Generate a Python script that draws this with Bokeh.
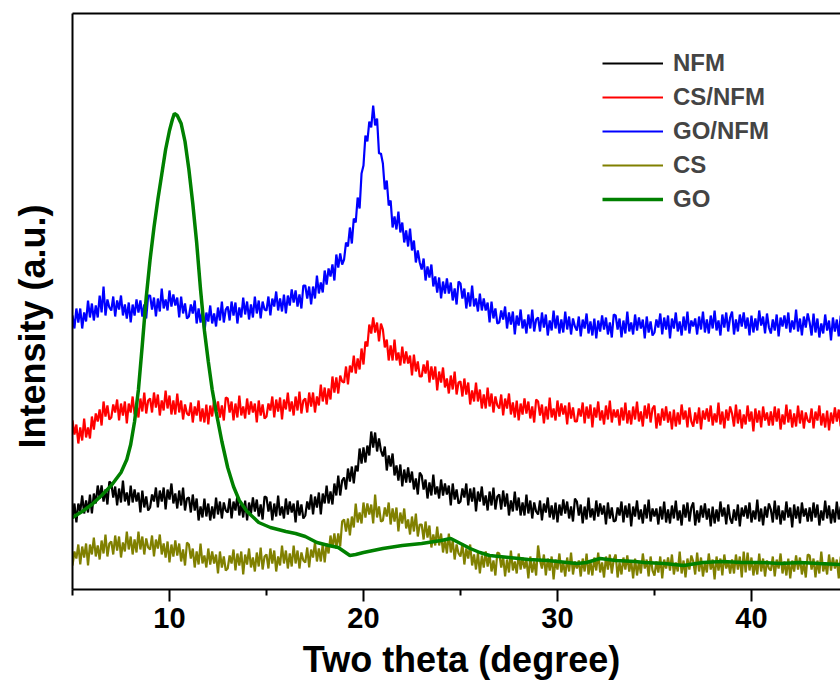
from bokeh.plotting import figure
from bokeh.models import Range1d, LinearAxis, FixedTicker
from bokeh.embed import file_html
from bokeh.resources import INLINE

nfm = [
    71, 86, 67, 86, 78, 94, 76, 89, 77, 95, 76, 96, 86, 104, 91, 104, 88, 100, 85, 108,
    106, 92, 103, 84, 101, 87, 109, 88, 97, 84, 104, 87, 100, 88, 97, 77, 99, 82, 93, 79,
    82, 95, 88, 102, 82, 99, 88, 102, 80, 100, 90, 106, 86, 96, 81, 99, 84, 102, 79, 91,
    92, 77, 95, 79, 91, 69, 83, 72, 91, 73, 86, 69, 83, 71, 92, 75, 88, 71, 87, 79,
    77, 91, 71, 88, 79, 94, 74, 86, 72, 89, 69, 87, 76, 92, 78, 90, 73, 85, 70, 93,
    92, 78, 88, 69, 86, 73, 94, 74, 83, 71, 91, 75, 88, 77, 86, 67, 89, 74, 85, 71,
    74, 88, 80, 95, 75, 93, 82, 97, 75, 96, 86, 104, 86, 98, 85, 106, 94, 114, 94, 109,
    112, 100, 121, 108, 123, 106, 124, 118, 141, 126, 142, 127, 144, 134, 158, 142, 157, 138, 151, 139,
    133, 143, 119, 134, 123, 136, 114, 124, 109, 125, 103, 120, 107, 122, 107, 118, 100, 111, 95, 117,
    114, 100, 110, 91, 107, 94, 115, 95, 103, 91, 110, 94, 106, 95, 104, 84, 106, 90, 100, 86,
    88, 101, 92, 106, 84, 101, 88, 102, 78, 98, 88, 103, 84, 94, 79, 98, 84, 102, 80, 93,
    95, 80, 99, 83, 96, 74, 89, 78, 98, 79, 92, 74, 87, 74, 95, 76, 89, 71, 87, 78,
    75, 89, 69, 86, 77, 92, 72, 84, 70, 87, 67, 85, 74, 90, 76, 88, 71, 83, 68, 91,
    88, 74, 85, 66, 83, 70, 92, 72, 81, 69, 89, 73, 86, 75, 84, 65, 87, 71, 82, 68,
    69, 82, 74, 88, 67, 84, 72, 86, 63, 83, 73, 89, 70, 80, 66, 85, 71, 90, 68, 81,
    73, 81, 65, 83, 70, 88, 67, 80, 66, 84, 71, 89, 69, 79, 64, 85, 72, 87, 68, 82,
    87, 64, 79, 67, 84, 72, 86, 70, 81, 63, 83, 66, 80, 68, 88, 73, 82, 65, 85, 71,
    66, 80, 69, 85, 63, 82, 73, 84, 71, 87, 67, 79, 70, 90, 68, 81, 64, 83, 72, 86,
    80, 67, 89, 70, 84, 65, 79, 69, 88, 72, 82, 62, 85, 71, 83, 66, 87, 73, 81, 68,
    82, 68, 87, 72, 85, 64, 79, 69, 89, 71, 84, 66, 80, 67, 88, 70, 83,
]

cs_nfm = [
    169, 155, 165, 146, 162, 149, 171, 152, 162, 151, 173, 160, 176, 168, 180, 164, 188, 173, 184, 170,
    172, 185, 177, 190, 169, 186, 174, 188, 166, 186, 177, 193, 175, 185, 172, 191, 178, 197, 176, 189,
    191, 177, 197, 182, 195, 174, 189, 179, 199, 181, 194, 175, 189, 175, 196, 177, 189, 170, 185, 176,
    174, 187, 167, 183, 174, 189, 168, 181, 167, 185, 165, 184, 173, 190, 176, 188, 172, 184, 169, 192,
    191, 177, 188, 169, 186, 172, 194, 174, 183, 171, 191, 175, 188, 177, 186, 167, 189, 174, 185, 171,
    173, 186, 179, 193, 172, 190, 178, 192, 170, 190, 180, 197, 178, 188, 174, 193, 179, 198, 176, 189,
    191, 177, 197, 183, 197, 177, 193, 184, 205, 188, 202, 185, 201, 190, 213, 197, 212, 196, 214, 208,
    207, 223, 205, 224, 217, 234, 216, 231, 220, 241, 225, 248, 243, 265, 256, 272, 257, 267, 248, 266,
    260, 242, 250, 229, 244, 229, 250, 229, 237, 224, 243, 226, 238, 226, 234, 214, 235, 218, 228, 213,
    213, 225, 216, 229, 207, 223, 210, 223, 199, 218, 207, 222, 202, 211, 196, 214, 200, 218, 195, 207,
    208, 193, 211, 195, 207, 185, 199, 188, 207, 188, 200, 181, 195, 181, 202, 183, 196, 177, 193, 184,
    181, 195, 174, 191, 181, 196, 175, 187, 172, 189, 169, 186, 175, 191, 176, 188, 171, 183, 167, 190,
    188, 174, 185, 166, 183, 170, 192, 172, 181, 169, 189, 173, 186, 175, 184, 165, 187, 171, 182, 168,
    168, 181, 173, 187, 166, 183, 171, 185, 162, 182, 172, 188, 169, 179, 165, 184, 170, 189, 167, 180,
    172, 180, 164, 182, 169, 187, 166, 179, 165, 183, 170, 188, 168, 178, 163, 184, 171, 186, 167, 181,
    184, 161, 176, 164, 181, 169, 183, 167, 178, 160, 180, 163, 177, 165, 185, 170, 179, 162, 182, 168,
    163, 177, 166, 182, 160, 179, 170, 181, 168, 184, 164, 176, 167, 187, 165, 178, 161, 180, 169, 183,
    176, 163, 185, 166, 180, 161, 175, 165, 184, 168, 178, 158, 181, 167, 179, 162, 183, 169, 177, 164,
    178, 164, 183, 168, 181, 160, 175, 165, 185, 167, 180, 162, 176, 163, 184, 166, 179, 161, 177, 169,
    167, 181, 161, 178, 169, 184, 164, 176, 162, 179, 159, 177, 166, 182, 168, 180, 163,
]

go_nfm = [
    274, 261, 281, 267, 281, 261, 277, 268, 289, 272, 286, 269, 284, 272, 294, 277, 303, 274, 290, 282,
    279, 293, 273, 289, 280, 294, 274, 285, 271, 287, 267, 285, 274, 290, 277, 289, 273, 285, 271, 294,
    294, 280, 292, 273, 291, 278, 301, 281, 290, 279, 299, 283, 295, 284, 292, 272, 293, 276, 286, 271,
    273, 285, 276, 289, 266, 281, 267, 279, 256, 277, 268, 284, 266, 276, 263, 282, 269, 288, 267, 280,
    283, 269, 288, 274, 287, 266, 282, 272, 292, 275, 288, 270, 285, 272, 293, 276, 289, 271, 288, 280,
    279, 293, 274, 291, 283, 298, 279, 291, 278, 295, 276, 294, 284, 300, 287, 299, 283, 295, 281, 304,
    304, 291, 303, 285, 303, 291, 314, 296, 307, 297, 319, 305, 321, 313, 325, 309, 335, 322, 336, 325,
    330, 347, 343, 362, 346, 371, 367, 392, 381, 416, 424, 454, 448, 468, 462, 484, 464, 471, 436, 436,
    426, 400, 409, 384, 389, 362, 373, 360, 378, 357, 367, 347, 359, 343, 361, 339, 349, 327, 339, 327,
    320, 331, 309, 323, 312, 325, 303, 313, 297, 312, 291, 308, 296, 311, 296, 307, 289, 301, 285, 308,
    306, 291, 301, 281, 297, 283, 304, 283, 291, 278, 296, 279, 291, 279, 287, 267, 288, 271, 281, 266,
    267, 279, 270, 283, 261, 277, 265, 278, 255, 274, 264, 280, 261, 270, 256, 275, 261, 280, 258, 270,
    272, 258, 277, 262, 275, 254, 269, 259, 279, 261, 274, 256, 270, 257, 278, 260, 273, 255, 271, 263,
    259, 273, 253, 270, 261, 276, 256, 268, 254, 271, 251, 269, 258, 274, 260, 272, 255, 267, 252, 275,
    274, 260, 271, 252, 269, 256, 278, 258, 267, 255, 275, 259, 272, 261, 270, 251, 273, 257, 268, 254,
    257, 270, 262, 276, 255, 272, 260, 274, 251, 271, 261, 277, 258, 268, 254, 273, 259, 278, 256, 269,
    263, 271, 255, 273, 260, 278, 257, 270, 256, 274, 261, 279, 259, 269, 254, 275, 262, 277, 258, 272,
    278, 255, 270, 258, 275, 263, 277, 261, 272, 254, 274, 257, 271, 259, 279, 264, 273, 256, 276, 262,
    256, 270, 259, 275, 253, 272, 263, 274, 261, 277, 257, 269, 260, 280, 258, 271, 254, 273, 262, 276,
    267, 254, 276, 257, 271, 252, 266, 256, 275, 259, 269, 249, 272, 258, 270, 253, 274,
]

cs = [
    24, 38, 31, 45, 25, 43, 32, 46, 24, 45, 35, 52, 33, 44, 30, 49, 36, 55, 33, 46,
    48, 35, 54, 39, 53, 32, 47, 38, 58, 40, 53, 35, 50, 37, 58, 40, 53, 35, 51, 42,
    40, 54, 33, 50, 41, 55, 35, 46, 32, 48, 27, 45, 33, 49, 34, 46, 28, 40, 24, 47,
    45, 31, 41, 22, 38, 25, 46, 26, 34, 22, 41, 25, 38, 26, 35, 16, 38, 22, 33, 19,
    21, 34, 26, 40, 19, 36, 24, 38, 15, 35, 25, 41, 22, 32, 18, 37, 23, 42, 20, 33,
    35, 21, 41, 26, 39, 18, 33, 24, 44, 26, 39, 21, 36, 23, 44, 26, 39, 21, 37, 29,
    27, 42, 22, 40, 32, 47, 28, 41, 28, 46, 27, 46, 36, 54, 42, 56, 41, 56, 43, 68,
    70, 58, 71, 54, 73, 62, 86, 67, 77, 66, 87, 72, 86, 75, 85, 66, 95, 72, 83, 68,
    69, 82, 73, 87, 65, 81, 68, 82, 58, 77, 66, 81, 61, 70, 55, 73, 58, 76, 53, 65,
    65, 50, 68, 52, 64, 42, 55, 44, 63, 44, 56, 37, 50, 36, 56, 37, 49, 30, 45, 36,
    33, 46, 25, 41, 31, 45, 24, 35, 20, 37, 16, 34, 22, 38, 23, 35, 18, 29, 14, 37,
    36, 22, 33, 13, 30, 17, 39, 19, 28, 16, 36, 20, 32, 21, 30, 11, 33, 17, 28, 14,
    44, 29, 21, 35, 14, 31, 19, 33, 10, 30, 20, 36, 17, 27, 13, 32, 18, 37, 15, 28,
    21, 29, 13, 31, 18, 36, 15, 28, 14, 32, 19, 37, 17, 27, 12, 33, 20, 35, 16, 30,
    35, 12, 27, 15, 32, 20, 34, 18, 29, 11, 31, 14, 28, 16, 36, 21, 30, 13, 33, 19,
    14, 28, 17, 33, 11, 30, 21, 32, 19, 35, 15, 27, 18, 38, 16, 29, 12, 31, 20, 34,
    28, 15, 37, 18, 32, 13, 27, 17, 36, 20, 30, 10, 33, 19, 31, 14, 35, 21, 29, 16,
    30, 16, 35, 20, 33, 12, 38, 17, 37, 19, 32, 14, 28, 15, 36, 18, 31, 13, 29, 21,
    19, 33, 13, 30, 21, 36, 16, 28, 14, 31, 11, 29, 18, 34, 20, 32, 15, 27, 12, 35,
    34, 20, 31, 12, 29, 16, 38, 18, 27, 15, 35, 19, 32, 21, 30, 11, 33,
]

go_theta = [
    5.0, 5.5, 6.0, 6.5, 7.0, 7.5, 7.8, 8.0, 8.2, 8.4,
    8.6, 8.8, 9.0, 9.2, 9.4, 9.6, 9.8, 10.0, 10.15, 10.25,
    10.4, 10.6, 10.8, 11.0, 11.2, 11.4, 11.6, 11.8, 12.0, 12.2,
    12.4, 12.7, 13.0, 13.3, 13.6, 14.0, 14.6, 15.2, 16.0, 16.5,
    17.0, 17.6, 18.2, 18.7, 19.0, 19.3, 19.6, 20.0, 21.0, 22.0,
    23.0, 24.0, 24.5, 25.0, 25.5, 26.0, 26.5, 27.5, 28.5, 29.5,
    30.5, 31.0, 31.5, 32.2, 33.0, 34.0, 34.5, 35.5, 36.5, 37.5,
    38.5, 39.5, 40.5, 41.5, 42.5, 43.5, 44.6,
]
go = [
    72, 78, 85, 94, 104, 117, 130, 145, 168, 200,
    245, 292, 330, 362, 390, 415, 440, 459, 470, 476,
    474, 466, 448, 420, 386, 347, 300, 259, 228, 200,
    178, 148, 122, 103, 89, 78, 67, 62, 58, 56,
    53, 47, 44, 42, 38, 34, 35, 37, 41, 44,
    46, 49, 51, 46, 41, 37, 34, 32, 30, 29,
    27, 26, 27, 31, 29, 28, 27, 26, 24, 27,
    28, 27, 27, 26, 27, 26, 25,
]


def grid(vals):
    # the scans are recorded on a 0.1 degree step starting at 5.0 degree
    return [round(5.0 + 0.1 * i, 1) for i in range(len(vals))]


series = [
    ("NFM", grid(nfm), nfm, "#000000", 2.2),
    ("CS/NFM", grid(cs_nfm), cs_nfm, "#ff0000", 2.2),
    ("GO/NFM", grid(go_nfm), go_nfm, "#0000ff", 2.2),
    ("CS", grid(cs), cs, "#808000", 2.2),
    ("GO", go_theta, go, "#008000", 3.5),
]

FONT = "Liberation Sans"

p = figure(width=840, height=691, output_backend="svg", toolbar_location=None,
           x_range=Range1d(5, 44.59), y_range=Range1d(0, 576),
           min_border_left=72, min_border_right=0, min_border_top=13,
           min_border_bottom=102)
p.outline_line_color = None
p.grid.visible = False
p.background_fill_color = "white"
p.border_fill_color = "white"

for name, xs, ys, col, lw in series:
    p.line(xs, ys, line_color=col, line_width=lw, legend_label=name)

# bottom axis
xa = p.xaxis[0]
xa.ticker = FixedTicker(ticks=[10, 20, 30, 40], minor_ticks=[5, 15, 25, 35])
xa.axis_line_width = 2
xa.major_tick_in = 0
xa.major_tick_out = 12
xa.minor_tick_in = 0
xa.minor_tick_out = 6
xa.major_tick_line_width = 2
xa.minor_tick_line_width = 2
xa.major_label_text_font = FONT
xa.major_label_text_font_style = "bold"
xa.major_label_text_font_size = "29px"
xa.major_label_text_color = "black"
xa.major_label_standoff = 6
xa.axis_label = "\u00a0Two theta (degree)"
xa.axis_label_text_font = FONT
xa.axis_label_text_font_style = "bold"
xa.axis_label_text_font_size = "36px"
xa.axis_label_text_color = "black"
xa.axis_label_standoff = 8

# left axis (no ticks)
ya = p.yaxis[0]
ya.ticker = FixedTicker(ticks=[])
ya.axis_line_width = 2
ya.major_tick_line_color = None
ya.minor_tick_line_color = None
ya.major_label_text_font_size = "0px"
ya.axis_label = "Intensity (a.u.)" + "\u00a0" * 5
ya.axis_label_text_font = FONT
ya.axis_label_text_font_style = "bold"
ya.axis_label_text_font_size = "36px"
ya.axis_label_text_color = "black"
ya.axis_label_standoff = 20

# top frame line
top = LinearAxis(ticker=FixedTicker(ticks=[]), axis_line_width=2,
                 major_tick_line_color=None, minor_tick_line_color=None,
                 major_label_text_font_size="0px", major_tick_out=0,
                 major_label_standoff=0)
p.add_layout(top, "above")

lg = p.legend[0]
lg.location = (530, 373)
lg.padding = 0
lg.margin = 0
lg.spacing = 0
lg.glyph_width = 61
lg.glyph_height = 34
lg.label_height = 34
lg.label_standoff = 10
lg.label_text_font = FONT
lg.label_text_font_style = "bold"
lg.label_text_font_size = "24px"
lg.border_line_color = None
lg.background_fill_alpha = 0

open("out.html", "w").write(file_html(p, INLINE))
